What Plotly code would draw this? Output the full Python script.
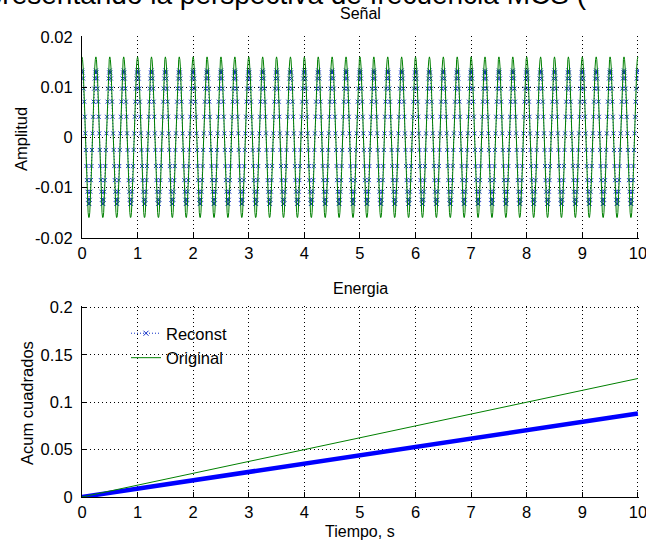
import numpy as np
import plotly.graph_objects as go

# ---------------- data ----------------
# One period (25 samples at 0.01 s) of each signal, 4 cycles per second
orig_cycle = [0.0160, 0.0155, 0.0140, 0.0117, 0.0086, 0.0049, 0.0010, -0.0030,
              -0.0068, -0.0102, -0.0129, -0.0149, -0.0159, -0.0159, -0.0149,
              -0.0129, -0.0102, -0.0068, -0.0030, 0.0010, 0.0049, 0.0086,
              0.0117, 0.0140, 0.0155]
recon_cycle = [0.0133, 0.0129, 0.0117, 0.0097, 0.0071, 0.0041, 0.0008, -0.0025,
               -0.0057, -0.0085, -0.0108, -0.0124, -0.0132, -0.0132, -0.0124,
               -0.0108, -0.0085, -0.0057, -0.0025, 0.0008, 0.0041, 0.0071,
               0.0097, 0.0117, 0.0129]
n_cycles = 40
sample_step = 0.01

energy_t = [0, 1, 2, 3, 4, 5, 6, 7, 8, 9, 10]
energy_orig = [0, 0.0125, 0.025, 0.0375, 0.050, 0.0625, 0.075, 0.0875, 0.100, 0.1125, 0.125]
energy_recon = [0, 0.0088, 0.0176, 0.0264, 0.0352, 0.044, 0.0528, 0.0616, 0.0704, 0.0792, 0.088]

x_ticks = [0, 1, 2, 3, 4, 5, 6, 7, 8, 9, 10]
y1_ticks = [-0.02, -0.01, 0, 0.01, 0.02]
y1_labels = ["-0.02", "-0.01", "0", "0.01", "0.02"]
y2_ticks = [0, 0.05, 0.1, 0.15, 0.2]
y2_labels = ["0", "0.05", "0.1", "0.15", "0.2"]

# ---------------- build series ----------------
orig = np.concatenate([np.tile(orig_cycle, n_cycles), orig_cycle[:1]])
recon = np.concatenate([np.tile(recon_cycle, n_cycles), recon_cycle[:1]])
t = np.arange(len(orig)) * sample_step

BLUE = "#0000ff"
BLUE_TOP = "#1030c8"
GREEN = "#008000"
FONT = "Liberation Sans, Arial, sans-serif"
FS = 16.5

fig = go.Figure()
fig.add_trace(go.Scatter(x=t, y=recon, mode="lines+markers", name="Reconst",
                         line=dict(color=BLUE_TOP, width=1, dash="1px,2px"),
                         marker=dict(symbol="x-thin", size=4, line=dict(color=BLUE_TOP, width=1)),
                         xaxis="x", yaxis="y", showlegend=False))
fig.add_trace(go.Scatter(x=t, y=orig, mode="lines", name="Original",
                         line=dict(color=GREEN, width=1),
                         xaxis="x", yaxis="y", showlegend=False))

fig.add_trace(go.Scatter(x=energy_t, y=energy_recon, mode="lines", name="Reconst",
                         line=dict(color=BLUE, width=4.5),
                         xaxis="x2", yaxis="y2", showlegend=False))
fig.add_trace(go.Scatter(x=energy_t, y=energy_orig, mode="lines", name="Original",
                         line=dict(color=GREEN, width=1),
                         xaxis="x2", yaxis="y2", showlegend=False))
# legend entries
fig.add_trace(go.Scatter(x=[None], y=[None], mode="lines+markers", name="Reconst",
                         line=dict(color=BLUE_TOP, width=1, dash="1px,2px"),
                         marker=dict(symbol="x-thin", size=5, line=dict(color=BLUE_TOP, width=1)),
                         xaxis="x2", yaxis="y2"))
fig.add_trace(go.Scatter(x=[None], y=[None], mode="lines", name="Original",
                         line=dict(color=GREEN, width=1),
                         xaxis="x2", yaxis="y2"))

W, H = 646, 541
xdom = [82 / W, 639 / W]
y1dom = [1 - 238 / H, 1 - 36 / H]
y2dom = [1 - 497 / H, 1 - 306 / H]

GRID_DASH = "1px,3px"
common_x = dict(range=[0, 10.02], tickvals=x_ticks, ticktext=[str(v) for v in x_ticks],
                showgrid=True, gridcolor="black", griddash=GRID_DASH, gridwidth=1,
                showline=True, linecolor="black", linewidth=1, mirror=False,
                ticks="inside", ticklen=5, tickcolor="black", zeroline=False,
                automargin=False, ticklabeloverflow="allow",
                tickfont=dict(family=FONT, size=FS, color="black"), domain=xdom)
common_y = dict(showgrid=True, gridcolor="black", griddash=GRID_DASH, gridwidth=1,
                showline=True, linecolor="black", linewidth=1, mirror=False,
                ticks="inside", ticklen=5, tickcolor="black", zeroline=False,
                ticklabelstandoff=5, automargin=False, ticklabeloverflow="allow",
                tickfont=dict(family=FONT, size=FS, color="black"))

fig.update_layout(
    width=W, height=H, margin=dict(l=0, r=0, t=0, b=0, autoexpand=False),
    paper_bgcolor="white", plot_bgcolor="white",
    xaxis=dict(common_x, anchor="y"),
    yaxis=dict(common_y, range=[-0.02, 0.02015], tickvals=y1_ticks, ticktext=y1_labels,
               domain=y1dom, anchor="x"),
    xaxis2=dict(common_x, anchor="y2"),
    yaxis2=dict(common_y, range=[0, 0.2015], tickvals=y2_ticks, ticktext=y2_labels,
                domain=y2dom, anchor="x2"),
    legend=dict(x=126 / W, y=1 - 316 / H, xanchor="left", yanchor="top",
                bgcolor="rgba(255,255,255,0)", borderwidth=0,
                font=dict(family=FONT, size=FS, color="black"),
                tracegroupgap=0),
    showlegend=True,
)

def ann(text, x, y, size=FS, angle=0, xanchor="center", yanchor="middle"):
    fig.add_annotation(text=text, x=x / W, y=1 - y / H, xref="paper", yref="paper",
                       showarrow=False, textangle=angle, xanchor=xanchor, yanchor=yanchor,
                       font=dict(family=FONT, size=size, color="black"))

ann("Señal", 360, 14, size=16)
ann("Energia", 360, 288, size=16)
ann("Tiempo, s", 360, 531, size=16)
ann("Amplitud", 21, 139, size=16.5, angle=-90)
ann("Acum cuadrados", 27, 403, size=16.5, angle=-90)
# partially cropped line of text at the very top of the picture
fig.add_annotation(text="Representando la perspectiva de frecuencia MCS (", x=588 / W,
                   y=1 - 11 / H, xref="paper", yref="paper", showarrow=False,
                   xanchor="right", yanchor="bottom", borderpad=0,
                   font=dict(family=FONT, size=28, color="black"))

fig.write_html("out.html")
